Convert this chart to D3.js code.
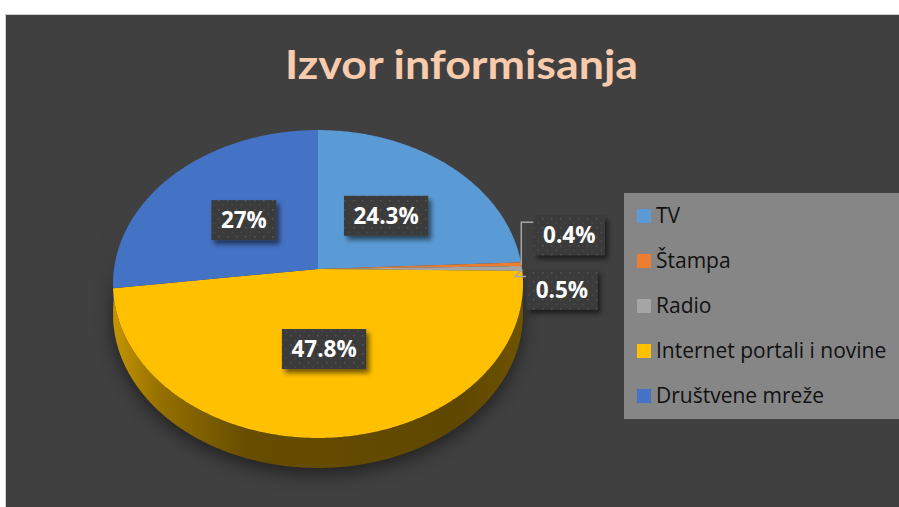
<!DOCTYPE html>
<html><head><meta charset="utf-8">
<script src="https://cdn.jsdelivr.net/npm/d3@7"></script>
<style>html,body{margin:0;padding:0;background:#fff;}svg{display:block;}</style>
</head><body>
<svg id="c" width="899" height="507"></svg>
<script>
const categories = ["TV", "Štampa", "Radio", "Internet portali i novine", "Društvene mreže"];
const values = [24.3, 0.4, 0.5, 47.8, 27];
const valueLabels = ["24.3%", "0.4%", "0.5%", "47.8%", "27%"];
const colors = ["#5b9bd5", "#ed7d31", "#a5a5a5", "#ffc000", "#4472c4"];
const sideColors = ["#3f6f9c", "#a9561f", "#747474", "#6a5000", "#2f5190"];
const title = "Izvor informisanja";

const svg = d3.select("#c");
const W = 899, H = 507;

svg.append("rect").attr("x", 5.5).attr("y", 14.5).attr("width", W).attr("height", H)
  .attr("fill", "#404040").attr("stroke", "#d0d0d0").attr("stroke-width", 1);

const defs = svg.append("defs");
const pat = defs.append("pattern").attr("id", "dots").attr("patternUnits", "userSpaceOnUse")
  .attr("width", 9).attr("height", 9);
pat.append("rect").attr("width", 9).attr("height", 9).attr("fill", "#3a3a3a");
pat.append("rect").attr("x", 2).attr("y", 2).attr("width", 1.5).attr("height", 1.5).attr("fill", "#565656");
pat.append("rect").attr("x", 6.5).attr("y", 6.5).attr("width", 1.5).attr("height", 1.5).attr("fill", "#4c4c4c");

const sh = defs.append("filter").attr("id", "boxsh").attr("x", "-30%").attr("y", "-30%").attr("width", "170%").attr("height", "170%");
sh.append("feDropShadow").attr("dx", 3).attr("dy", 4).attr("stdDeviation", 2.5).attr("flood-color", "#000").attr("flood-opacity", 0.55);
const blur = defs.append("filter").attr("id", "pieblur").attr("x", "-20%").attr("y", "-20%").attr("width", "140%").attr("height", "140%");
blur.append("feGaussianBlur").attr("stdDeviation", 9);

const sideGrad = defs.append("linearGradient").attr("id", "sideGrad")
  .attr("gradientUnits", "userSpaceOnUse").attr("x1", 112).attr("x2", 522).attr("y1", 0).attr("y2", 0);
sideGrad.append("stop").attr("offset", 0).attr("stop-color", "#c69500");
sideGrad.append("stop").attr("offset", 0.12).attr("stop-color", "#946f00");
sideGrad.append("stop").attr("offset", 0.33).attr("stop-color", "#664d00");
sideGrad.append("stop").attr("offset", 0.85).attr("stop-color", "#5f4700");
sideGrad.append("stop").attr("offset", 1).attr("stop-color", "#6e5300");

// perspective projection of the pie disc
const cx = 318, cy = 269, R = 204, S = 152.5, k = 0.0975, depth = 30;
function proj(theta, f = 1, dy = 0) {
  const u = f * Math.sin(theta), v = f * Math.cos(theta);
  const w = 1 + k * v;
  return [cx + R * u / w, cy - S * v / w + dy];
}
function arcPts(a0, a1, dy = 0) {
  const n = Math.max(2, Math.ceil(Math.abs(a1 - a0) / (Math.PI / 360)));
  return d3.range(n + 1).map(i => proj(a0 + (a1 - a0) * i / n, 1, dy));
}
const line = d3.line();

const pie = d3.pie().sort(null).value(d => d.v);
const data = categories.map((c, i) => ({ c, v: values[i], lab: valueLabels[i], col: colors[i], side: sideColors[i] }));
const arcs = pie(data);

const g = svg.append("g");

// shadow
g.append("path").attr("d", line(arcPts(Math.PI / 2, 3 * Math.PI / 2, depth + 6).concat(arcPts(3 * Math.PI / 2, Math.PI / 2, -40))) + "Z")
  .attr("fill", "#000").attr("opacity", 0.5).attr("filter", "url(#pieblur)");

// sides (front-facing part)
arcs.forEach((a, i) => {
  const s = Math.max(a.startAngle, Math.PI / 2), e = Math.min(a.endAngle, 3 * Math.PI / 2);
  if (e <= s) return;
  const pts = arcPts(s, e).concat(arcPts(e, s, depth));
  g.append("path").attr("d", line(pts) + "Z")
    .attr("fill", i === 3 ? "url(#sideGrad)" : a.data.side);
});

// top faces
arcs.forEach(a => {
  const pts = [proj(0, 0)].concat(arcPts(a.startAngle, a.endAngle));
  g.append("path").attr("d", line(pts) + "Z").attr("fill", a.data.col);
});

// labels
const labelFont = "'Open Sans', sans-serif";
const outside = { 1: { dx: 48, dy: -29, leader: "up" }, 2: { dx: 40, dy: 21, leader: "down" } };
arcs.forEach((a, i) => {
  const mid = (a.startAngle + a.endAngle) / 2;
  let lx, ly;
  const lg = svg.append("g");
  const t = lg.append("text").attr("font-family", labelFont).attr("font-weight", 700)
    .attr("font-size", 22.5).attr("fill", "#fff").attr("text-anchor", "middle").text(a.data.lab);
  const tw = t.node().getComputedTextLength();
  const bw = tw + 19, bh = 40;
  if (outside[i]) {
    const p = proj(mid, 1);
    const o = outside[i];
    lx = p[0] + o.dx; ly = p[1] + o.dy;
    const boxL = lx - bw / 2;
    const yy = ly - bh / 2 + 7;
    const lp = o.leader === "up"
      ? [[p[0], p[1] + 1], [p[0], yy], [boxL, yy]]
      : [[p[0] + 0.5, p[1] + 1], [p[0] - 7, yy], [boxL, yy]];
    svg.insert("path", () => lg.node()).attr("d", line(lp)).attr("fill", "none")
      .attr("stroke", "#a6a6a6").attr("stroke-width", 1.5);
  } else {
    const p = proj(mid, 0.5);
    lx = p[0]; ly = p[1];
  }
  lg.insert("rect", "text").attr("x", lx - bw / 2).attr("y", ly - bh / 2).attr("width", bw).attr("height", bh)
    .attr("fill", "url(#dots)").attr("filter", "url(#boxsh)");
  t.attr("x", lx).attr("y", ly + 8);
});

// legend
const leg = svg.append("g");
leg.append("rect").attr("x", 624).attr("y", 193).attr("width", 280).attr("height", 226).attr("fill", "#868686");
const ly = d3.scalePoint().domain(categories).range([216, 396]);
categories.forEach((c, i) => {
  leg.append("rect").attr("x", 637).attr("y", ly(c) - 7).attr("width", 14).attr("height", 14).attr("fill", colors[i]);
  leg.append("text").attr("x", 656).attr("y", ly(c) + 7).attr("font-family", labelFont)
    .attr("font-size", 21).attr("fill", "#111").text(c);
});

// title
svg.append("text").attr("x", 461.5).attr("y", 79).attr("text-anchor", "middle")
  .attr("font-family", "Lato, sans-serif").attr("font-weight", 700).attr("font-size", 41)
  .attr("fill", "#f8cbad").attr("textLength", 353).attr("lengthAdjust", "spacingAndGlyphs").text(title);
</script>
</body></html>
